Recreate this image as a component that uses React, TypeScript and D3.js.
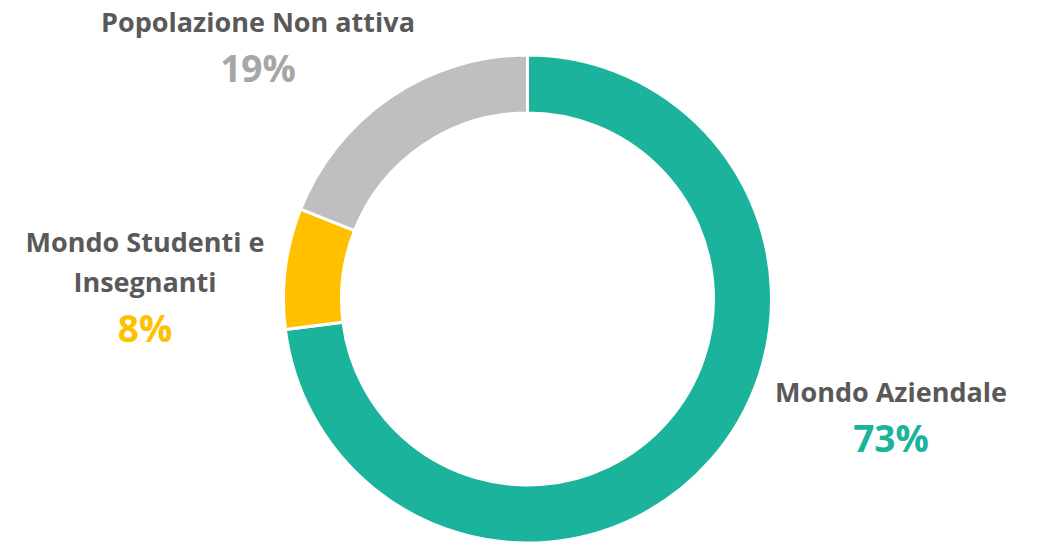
import React from "react";
import * as d3 from "d3";

const categories = ["Mondo Aziendale", "Mondo Studenti e Insegnanti", "Popolazione Non attiva"];
const values = [73, 8, 19];
const sliceColors = ["#1BB39B", "#FFC000", "#BFBFBF"];
const pctColors = ["#1BB39B", "#FFC000", "#A6A6A6"];
const labelLines = [["Mondo Aziendale"], ["Mondo Studenti e", "Insegnanti"], ["Popolazione Non attiva"]];

const width = 1038;
const height = 542;

export default function App() {
    const cx = 527.5;
    const cy = 299;
    const outer = 244;
    const inner = 186;

    const pie = d3.pie<number>().sort(null).value((d) => d);
    const arcs = pie(values);
    const arcGen = d3.arc<d3.PieArcDatum<number>>().innerRadius(inner).outerRadius(outer);

    // label anchors (centre x, first baseline) for each category
    const labelPos = [
        { x: 891, y: 402 },
        { x: 145, y: 252 },
        { x: 258, y: 32 },
    ];

    const font = "'Open Sans', 'DejaVu Sans', sans-serif";

    return (
        <svg width={width} height={height} style={{ position: "absolute", left: 0, top: 0 }}>
            <rect width={width} height={height} fill="#ffffff" />
            <g transform={`translate(${cx},${cy})`}>
                {arcs.map((a, i) => (
                    <path key={categories[i]} d={arcGen(a) || ""} fill={sliceColors[i]} stroke="#ffffff" strokeWidth={3} />
                ))}
            </g>
            {labelPos.map((p, i) => {
                const lines = labelLines[i];
                return (
                    <g key={categories[i]} fontFamily={font} fontWeight={700} textAnchor="middle">
                        {lines.map((t, j) => (
                            <text key={t} x={p.x} y={p.y + j * 40} fontSize={27} fill="#595959">
                                {t}
                            </text>
                        ))}
                        <text x={p.x} y={p.y + (lines.length - 1) * 40 + 50} fontSize={37} fill={pctColors[i]}>
                            {`${values[i]}%`}
                        </text>
                    </g>
                );
            })}
        </svg>
    );
}
